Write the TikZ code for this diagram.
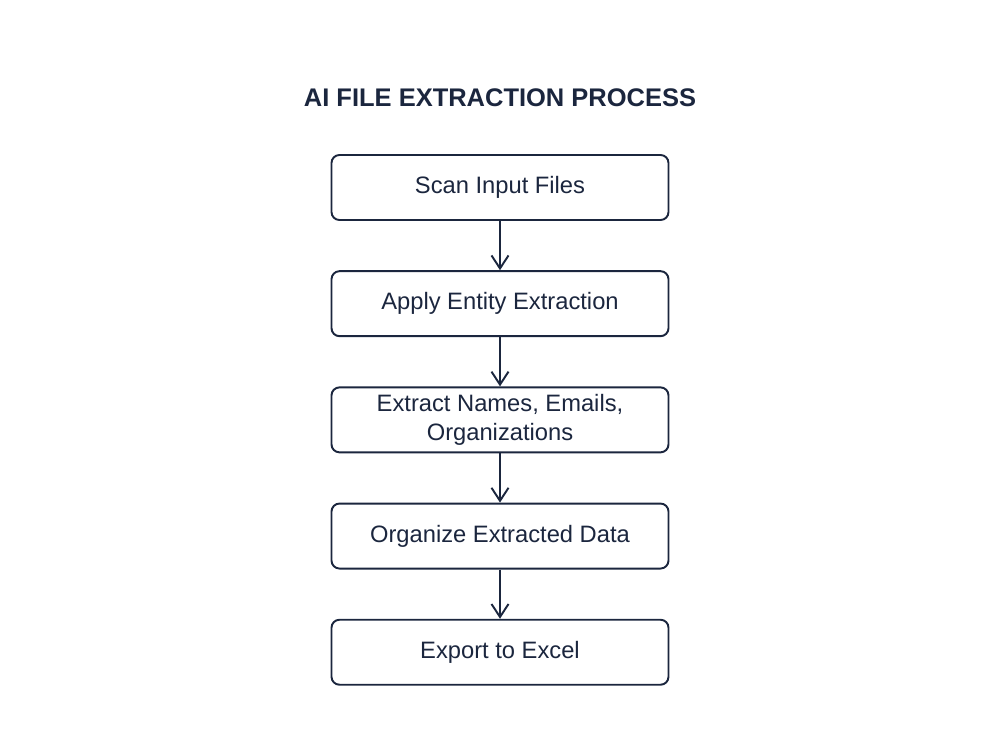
\documentclass[tikz,border=0pt]{standalone}
\usepackage{fontspec}
\setmainfont{Liberation Sans}
\usetikzlibrary{
  arrows.meta,
  positioning
}
\definecolor{InkNavy}{RGB}{27,38,62}
\tikzset{
  stepbox/.style={draw=InkNavy,fill=white,line width=1.1pt,rounded corners=1.6mm,minimum height=13mm,minimum width=6.74cm,align=center,text=InkNavy,font=\fontsize{13.5}{16}\selectfont},
  titletext/.style={text=InkNavy,font=\fontsize{14.5}{17}\selectfont\bfseries},
  flow/.style={-{Straight Barb[length=2.6mm,width=3.4mm,line width=1.1pt]},line width=1.1pt,draw=InkNavy}
}
\begin{document}
\begin{tikzpicture}[node distance=9.85mm]
\useasboundingbox (0,0) rectangle (20,15);
\node[titletext] (title) at (10,13.04) {AI FILE EXTRACTION PROCESS};
\node[stepbox] (scan) at (10,11.25) {Scan Input Files};
\node[stepbox, below=of scan] (apply) {Apply Entity Extraction};
\node[stepbox, below=of apply] (extract) {Extract Names, Emails,\\Organizations};
\node[stepbox, below=of extract] (organize) {Organize Extracted Data};
\node[stepbox, below=of organize] (export) {Export to Excel};

\draw[flow] (scan) -- (apply);
\draw[flow] (apply) -- (extract);
\draw[flow] (extract) -- (organize);
\draw[flow] (organize) -- (export);
\end{tikzpicture}
\end{document}
